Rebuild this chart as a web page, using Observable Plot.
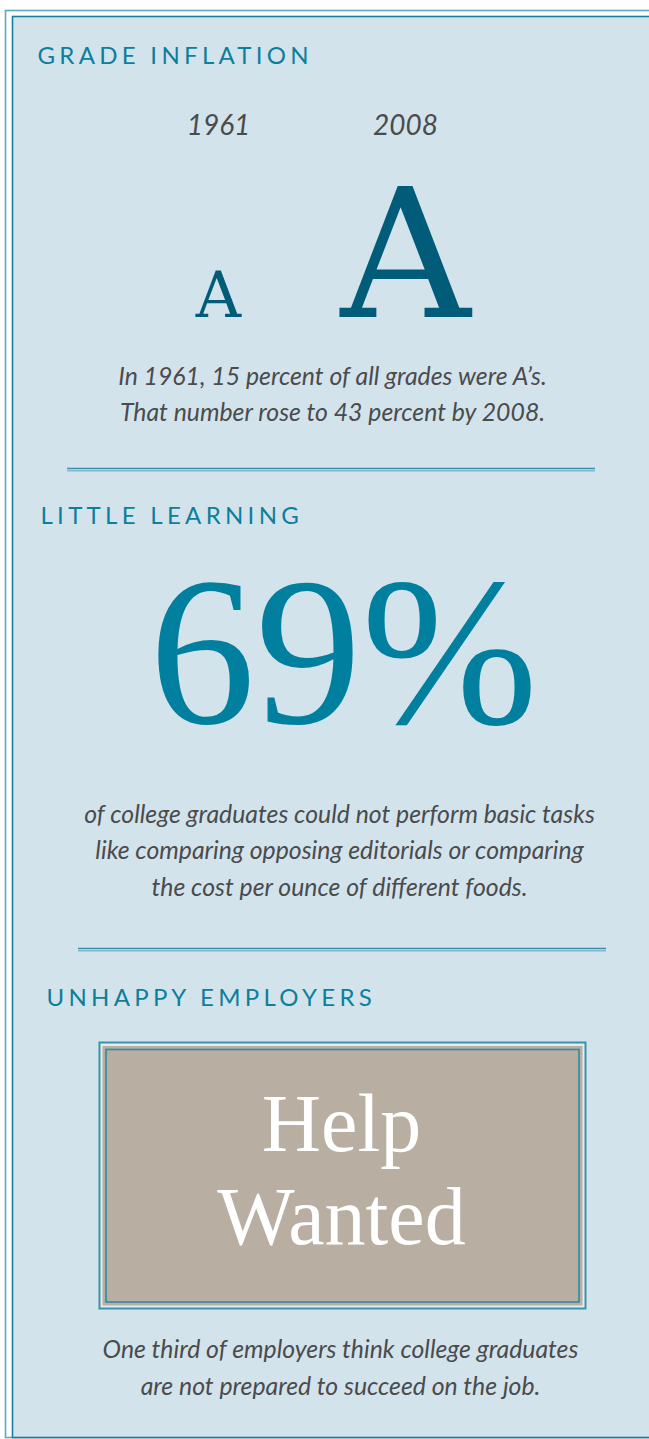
<!DOCTYPE html>
<html>
<head>
<meta charset="utf-8">
<script src="https://cdn.jsdelivr.net/npm/d3@7"></script>
<script src="https://cdn.jsdelivr.net/npm/@observablehq/plot@0.6"></script>
<style>
  html, body { margin: 0; padding: 0; background: #ffffff; }
  #chart svg { display: block; }
</style>
</head>
<body>
<div id="chart"></div>
<script>
// ---------- DATA ----------
const headings = ["GRADE INFLATION", "LITTLE LEARNING", "UNHAPPY EMPLOYERS"];
const years = ["1961", "2008"];
const shareOfA = [15, 43]; // percent of all grades that were A's
const notProficient = 69;  // percent of college graduates
const signWords = ["Help", "Wanted"];
const learningCaption = [
  "of college graduates could not perform basic tasks",
  "like comparing opposing editorials or comparing",
  "the cost per ounce of different foods."
];
const employerCaption = [
  "One third of employers think college graduates",
  "are not prepared to succeed on the job."
];
const gradeCaption = [
  `In ${years[0]}, ${shareOfA[0]} percent of all grades were A’s.`,
  `That number rose to ${shareOfA[1]} percent by ${years[1]}.`
];

// ---------- LAYOUT & STYLE ----------
const W = 649, H = 1439;
const C = {
  bg: "#d3e3ec", frame: "#1a7f9c", frameLight: "#5aa8c0",
  heading: "#0b7f9b", bigA: "#005c78", stat: "#00809e",
  caption: "#4a4b4d", tan: "#b8afa2", rule: "#3a8eab", ruleLight: "#86b9cb"
};
const sans = "Lato, 'Open Sans', sans-serif";
const serif = "'Liberation Serif', 'DejaVu Serif', serif";
const slab = "'DejaVu Serif', serif";

const yearX = d3.scalePoint().domain(years).range([218, 405]);
const aSize = d3.scaleLinear().domain([0, d3.max(shareOfA)]).range([0, 180]);
const gradeData = years.map((y, i) => ({year: y, share: shareOfA[i]}));

const headingData = headings.map((t, i) => ({text: t, x: [37, 40, 46][i], y: [63, 523, 1005][i]}));
const capLines = [
  ...gradeCaption.map((t, i) => ({text: t, x: 332, y: 384 + i * 36})),
  ...learningCaption.map((t, i) => ({text: t, x: 339, y: 822 + i * 36.5})),
  ...employerCaption.map((t, i) => ({text: t, x: 340, y: 1357 + i * 37}))
];
const rules = [
  {x1: 67, x2: 595, y: 469}, {x1: 78, x2: 606, y: 949}
];
const frame = [
  {x1: 5.5, x2: W + 20, y1: 10.5, y2: 1437.5, stroke: C.frameLight, fill: "white"},
  {x1: 12.5, x2: W + 20, y1: 16.5, y2: 1437.5, stroke: C.frame, fill: C.bg}
];
const box = [
  {x1: 99.5, x2: 585.5, y1: 1042.5, y2: 1308.5, stroke: "#3a93ae", fill: "#e4ecef", sw: 2},
  {x1: 102.5, x2: 582.5, y1: 1046, y2: 1305.5, stroke: "none", fill: C.tan, sw: 0},
  {x1: 106, x2: 579, y1: 1049.5, y2: 1302, stroke: "#2f8aa5", fill: C.tan, sw: 1.6}
];

const chart = Plot.plot({
  width: W, height: H,
  margin: 0,
  x: {type: "identity", axis: null},
  y: {type: "identity", axis: null},
  style: {background: "white"},
  marks: [
    // frame
    Plot.rect(frame, {x1: "x1", x2: "x2", y1: "y1", y2: "y2", fill: "fill", stroke: "stroke", strokeWidth: 1.6}),
    // headings
    Plot.text(headingData, {x: "x", y: "y", text: "text", textAnchor: "start", lineAnchor: "bottom",
      fontFamily: sans, fontSize: 24, fill: C.heading}),
    // grade inflation years
    Plot.text(gradeData, {x: d => yearX(d.year), y: () => 134, text: "year", lineAnchor: "bottom",
      fontFamily: sans, fontStyle: "italic", fontSize: 28, fill: C.caption}),
    // A's sized by share
    ...gradeData.map(d => Plot.text([d], {x: d => yearX(d.year), y: () => 316, text: () => "A", lineAnchor: "bottom",
      fontFamily: slab, fontSize: aSize(d.share), fill: C.bigA})),
    // rules (double line)
    Plot.ruleY(rules, {x1: "x1", x2: "x2", y: d => d.y - 1, stroke: C.rule, strokeWidth: 1.6}),
    Plot.ruleY(rules, {x1: "x1", x2: "x2", y: d => d.y + 1.2, stroke: C.ruleLight, strokeWidth: 1.6}),
    // 69%
    Plot.text([notProficient], {x: () => 343, y: () => 722, text: d => `${d}%`, lineAnchor: "bottom",
      fontFamily: serif, fontSize: 212, fill: C.stat}),
    // help wanted box
    Plot.rect(box, {x1: "x1", x2: "x2", y1: "y1", y2: "y2", fill: "fill", stroke: "stroke", strokeWidth: "sw"}),
    Plot.text(signWords, {x: () => 341, y: (d, i) => [1150, 1243][i], text: d => d, lineAnchor: "bottom",
      fontFamily: serif, fontSize: 82, fill: "white"}),
    // captions
    Plot.text(capLines, {x: "x", y: "y", text: "text", lineAnchor: "bottom",
      fontFamily: sans, fontStyle: "italic", fontSize: 24.8, fill: C.caption})
  ]
});

d3.select(chart).selectAll("text")
  .filter(function() { return headings.includes(this.textContent); })
  .style("letter-spacing", "4.3px");
document.getElementById("chart").appendChild(chart);
</script>
</body>
</html>
